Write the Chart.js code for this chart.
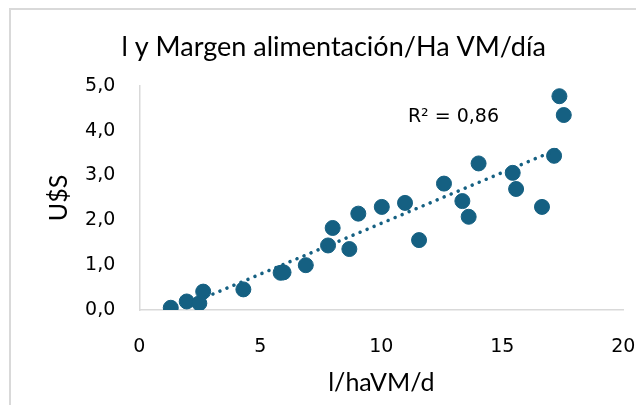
<!DOCTYPE html>
<html>
<head>
<meta charset="utf-8">
<script src="https://cdn.jsdelivr.net/npm/chart.js@4"></script>
<style>
  html, body { margin: 0; padding: 0; background: #fff; overflow: hidden; }
  #wrap { position: relative; width: 636px; height: 405px; }
  #frame { position: absolute; left: 9px; top: 8px; width: 700px; height: 500px; border: 2px solid #d9d9d9; box-sizing: border-box; }
  canvas { position: absolute; left: 0; top: 0; }
</style>
</head>
<body>
<div id="wrap">
  <div id="frame"></div>
  <canvas id="chart" width="636" height="405"></canvas>
</div>
<script>
// litros / ha VM / día
const litros = [1.30, 1.96, 2.48, 2.64, 4.30, 5.84, 5.96, 6.88, 7.80, 7.99, 8.68, 9.05,
  10.02, 10.98, 11.56, 12.59, 13.35, 13.61, 14.02, 15.43, 15.57, 16.64, 17.14, 17.36, 17.54];
// margen U$S
const margen = [0.05, 0.19, 0.15, 0.41, 0.46, 0.83, 0.84, 1.00, 1.44, 1.83, 1.36, 2.15,
  2.30, 2.39, 1.56, 2.82, 2.43, 2.08, 3.27, 3.06, 2.70, 2.30, 3.44, 4.77, 4.35];

// linea de tendencia (extremos)
const trendX = [2.75, 17.35];
const trendY = [0.29, 3.60];
const r2Text = 'R² = 0,86';

const titleFont = "Lato, sans-serif";
const tickFont = "'DejaVu Sans', sans-serif";
const teal = '#156082';

const points = litros.map((x, i) => ({ x: x, y: margen[i] }));
const trend = trendX.map((x, i) => ({ x: x, y: trendY[i] }));

// R² label
const r2Label = {
  id: 'r2Label',
  afterDatasetsDraw(chart) {
    const { ctx, scales } = chart;
    ctx.save();
    ctx.font = '19px ' + tickFont;
    ctx.fillStyle = '#000';
    ctx.textAlign = 'left';
    ctx.textBaseline = 'middle';
    ctx.fillText(r2Text, scales.x.getPixelForValue(11.1), scales.y.getPixelForValue(4.3));
    ctx.restore();
  }
};

new Chart(document.getElementById('chart'), {
  type: 'scatter',
  data: {
    datasets: [{
      data: trend,
      type: 'line',
      borderColor: teal,
      borderWidth: 3.5,
      borderDash: [0.1, 7.5],
      borderCapStyle: 'round',
      pointRadius: 0,
      fill: false
    }, {
      data: points,
      backgroundColor: teal,
      borderColor: teal,
      pointRadius: 7.5,
      pointHoverRadius: 7.5
    }]
  },
  options: {
    responsive: false,
    animation: false,
    layout: { padding: { left: 44, right: 12.7, top: 0, bottom: 0 } },
    plugins: {
      legend: { display: false },
      tooltip: { enabled: false },
      title: {
        display: true,
        text: 'l y Margen alimentación/Ha VM/día',
        color: '#000',
        font: { family: titleFont, size: 27, weight: 'normal' },
        padding: { top: 31, bottom: 22.5 }
      }
    },
    scales: {
      x: {
        type: 'linear',
        min: 0, max: 20,
        grid: { display: false, drawTicks: false },
        border: { display: true, color: '#d9d9d9', width: 1.5 },
        ticks: { stepSize: 5, color: '#000', padding: 26, font: { family: tickFont, size: 19 } },
        title: { display: true, text: 'l/haVM/d', color: '#000', font: { family: titleFont, size: 25 }, padding: { top: 0, bottom: 7 } },
        afterFit(s) { s.height = 95; s.paddingLeft = 0; s.paddingRight = 0; }
      },
      y: {
        min: 0, max: 5,
        grid: { display: false, drawTicks: false },
        border: { display: true, color: '#d9d9d9', width: 1.5 },
        ticks: {
          stepSize: 1, color: '#000', padding: 24, font: { family: tickFont, size: 19 },
          callback: (v) => v.toFixed(1).replace('.', ',')
        },
        title: { display: true, text: 'U$S', color: '#000', font: { family: titleFont, size: 25 }, padding: { top: 0, bottom: 0 } },
        afterFit(s) { s.width = 139.3 - 44; s.paddingTop = 0; s.paddingBottom = 0; }
      }
    }
  },
  plugins: [r2Label]
});
</script>
</body>
</html>
